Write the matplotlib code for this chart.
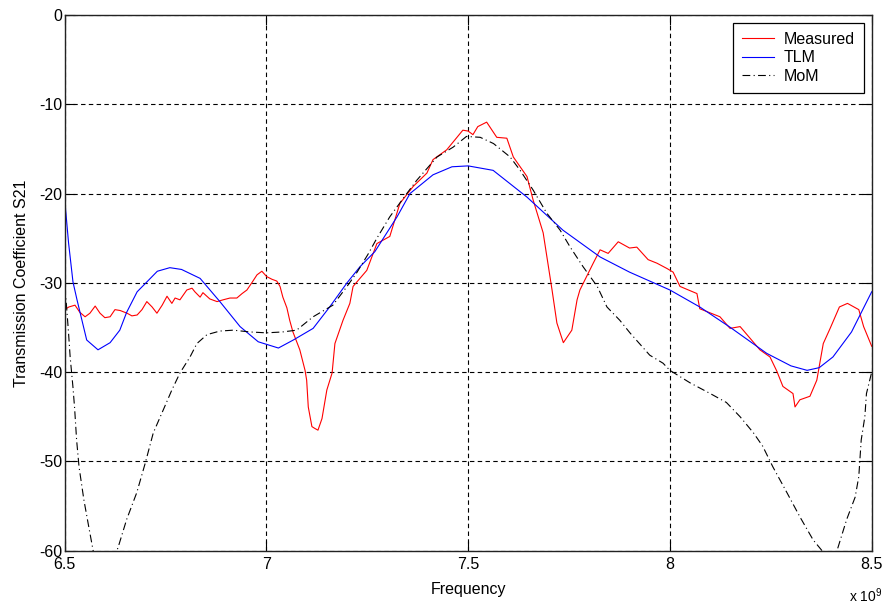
import matplotlib
matplotlib.use("Agg")
import matplotlib.pyplot as plt

plt.rcParams['font.family'] = ['Liberation Sans', 'DejaVu Sans']
plt.rcParams['axes.unicode_minus'] = False
plt.rcParams['mathtext.fontset'] = 'custom'
plt.rcParams['mathtext.rm'] = 'Liberation Sans'
plt.rcParams['mathtext.it'] = 'Liberation Sans'

# ---------------- data (frequency in GHz, S21 in dB) ----------------
meas_f = [6.500, 6.511, 6.526, 6.538, 6.551, 6.563, 6.576, 6.588, 6.600, 6.613,
          6.625, 6.638, 6.655, 6.667, 6.680, 6.692, 6.704, 6.717, 6.729, 6.742,
          6.754, 6.766, 6.774, 6.786, 6.803, 6.816, 6.823, 6.836, 6.843, 6.860,
          6.878, 6.893, 6.910, 6.927, 6.940, 6.952, 6.964, 6.977, 6.989, 7.001,
          7.014, 7.026, 7.034, 7.041, 7.051, 7.058, 7.066, 7.083, 7.096, 7.100,
          7.104, 7.113, 7.120, 7.128, 7.138, 7.150, 7.163, 7.170, 7.190, 7.207,
          7.215, 7.249, 7.274, 7.306, 7.331, 7.364, 7.398, 7.413, 7.447, 7.487,
          7.500, 7.512, 7.524, 7.546, 7.571, 7.596, 7.612, 7.646, 7.661, 7.686,
          7.708, 7.720, 7.736, 7.757, 7.770, 7.777, 7.810, 7.827, 7.847, 7.872,
          7.900, 7.918, 7.946, 7.968, 7.993, 8.008, 8.025, 8.067, 8.074, 8.124,
          8.149, 8.174, 8.223, 8.248, 8.265, 8.280, 8.305, 8.310, 8.322, 8.347,
          8.364, 8.380, 8.397, 8.420, 8.440, 8.468, 8.480, 8.500]
meas_db = [-33.0, -32.7, -32.5, -33.3, -33.8, -33.4, -32.6, -33.4, -33.9, -33.8,
           -33.0, -33.1, -33.4, -33.7, -33.6, -33.0, -32.1, -32.7, -33.4, -32.5,
           -31.5, -32.3, -31.7, -31.9, -30.8, -30.6, -31.0, -31.6, -31.1, -31.8,
           -32.1, -31.9, -31.7, -31.7, -31.2, -30.8, -30.0, -29.1, -28.7, -29.3,
           -29.6, -29.8, -30.4, -31.6, -32.8, -34.2, -35.5, -37.5, -39.8, -40.9,
           -43.9, -46.1, -46.3, -46.5, -45.2, -42.0, -40.1, -36.8, -34.2, -32.3,
           -30.4, -28.6, -25.6, -24.8, -21.1, -19.2, -17.7, -16.2, -15.1, -12.9,
           -13.0, -13.4, -12.5, -12.0, -13.7, -13.8, -15.9, -18.1, -20.7, -24.4,
           -30.8, -34.5, -36.7, -35.3, -31.9, -30.8, -27.8, -26.3, -26.7, -25.4,
           -26.1, -26.0, -27.4, -27.8, -28.4, -28.8, -30.4, -31.2, -32.9, -33.8,
           -35.1, -34.9, -37.5, -38.3, -39.9, -41.6, -42.4, -43.9, -43.1, -42.7,
           -40.9, -36.8, -35.1, -32.7, -32.3, -33.0, -34.9, -37.1]

tlm_f = [6.500, 6.510, 6.521, 6.531, 6.555, 6.583, 6.613, 6.637, 6.654, 6.680,
         6.704, 6.730, 6.761, 6.790, 6.836, 6.885, 6.935, 6.980, 7.030, 7.067,
         7.116, 7.157, 7.200, 7.232, 7.269, 7.324, 7.356, 7.413, 7.460, 7.500,
         7.562, 7.646, 7.735, 7.827, 7.900, 8.000, 8.074, 8.150, 8.240, 8.300,
         8.340, 8.370, 8.404, 8.450, 8.490, 8.500]
tlm_db = [-20.4, -25.5, -29.9, -31.9, -36.4, -37.5, -36.7, -35.3, -33.3, -31.0,
          -29.9, -28.7, -28.3, -28.5, -29.5, -32.1, -34.9, -36.6, -37.3, -36.4,
          -35.1, -32.7, -30.0, -28.2, -26.5, -22.6, -20.0, -17.9, -17.0, -16.9,
          -17.4, -20.4, -24.1, -27.1, -28.8, -30.8, -32.7, -35.0, -37.9, -39.3,
          -39.8, -39.5, -38.3, -35.5, -31.9, -31.0]

mom_f = [6.500, 6.504, 6.510, 6.514, 6.521, 6.525, 6.530, 6.536, 6.548, 6.560,
         6.571, 6.590, 6.610, 6.633, 6.654, 6.679, 6.700, 6.720, 6.745, 6.766,
         6.786, 6.811, 6.828, 6.853, 6.885, 6.918, 6.960, 7.000, 7.040, 7.075,
         7.116, 7.165, 7.200, 7.225, 7.252, 7.274, 7.306, 7.348, 7.373, 7.423,
         7.463, 7.496, 7.530, 7.563, 7.604, 7.629, 7.661, 7.695, 7.728, 7.753,
         7.785, 7.820, 7.844, 7.876, 7.901, 7.950, 7.983, 8.000, 8.050, 8.100,
         8.140, 8.174, 8.207, 8.230, 8.255, 8.290, 8.322, 8.355, 8.377, 8.395,
         8.414, 8.438, 8.459, 8.468, 8.474, 8.483, 8.487, 8.500]
mom_db = [-30.5, -32.0, -35.6, -38.3, -41.7, -44.0, -47.6, -50.6, -54.3, -57.3,
          -60.0, -62.5, -62.5, -59.6, -56.5, -53.5, -50.2, -46.8, -44.2, -42.0,
          -40.1, -38.3, -36.8, -35.8, -35.4, -35.3, -35.5, -35.6, -35.5, -35.3,
          -33.8, -32.5, -30.4, -28.8, -26.8, -25.0, -22.6, -20.0, -18.5, -15.9,
          -14.8, -13.6, -13.7, -14.4, -15.9, -17.4, -19.6, -22.2, -24.1, -26.0,
          -28.2, -30.4, -32.7, -34.2, -35.6, -38.1, -39.0, -39.8, -41.2, -42.4,
          -43.4, -45.0, -46.8, -48.3, -50.6, -53.5, -56.2, -58.8, -60.0, -60.8,
          -60.0, -56.5, -54.0, -51.7, -47.6, -45.0, -42.4, -40.0]

x_ticks = [6.5e9, 7.0e9, 7.5e9, 8.0e9, 8.5e9]
x_tick_labels = ['6.5', '7', '7.5', '8', '8.5']
y_ticks = [0, -10, -20, -30, -40, -50, -60]
series_labels = ['Measured', 'TLM', 'MoM']

# ---------------- figure ----------------
fig = plt.figure(figsize=(8.86, 6.04), dpi=100)
ax = fig.add_axes([64.5 / 886, 1 - 550.7 / 604, (871.7 - 64.5) / 886, (550.7 - 15) / 604])

hz = lambda arr: [v * 1e9 for v in arr]
ax.plot(hz(meas_f), meas_db, color='#ff0000', lw=0.8, label=series_labels[0])
ax.plot(hz(tlm_f), tlm_db, color='#0000ff', lw=0.8, label=series_labels[1])
ax.plot(hz(mom_f), mom_db, color='black', lw=0.8, linestyle=(0, (7, 3, 1, 3)),
        label=series_labels[2])

ax.set_xlim(6.5e9, 8.5e9)
ax.set_ylim(-60, 0)
ax.set_xticks(x_ticks)
ax.set_xticklabels(x_tick_labels)
ax.set_yticks(y_ticks)
ax.set_yticklabels([str(v) for v in y_ticks])

ax.grid(True, color='black', linestyle=(0, (4, 3)), linewidth=0.8)
ax.tick_params(direction='in', length=7, width=0.8, top=True, right=True,
               labelsize=11.5, colors='black')
ax.tick_params(axis='x', pad=4.5)
ax.tick_params(axis='y', pad=1.5)
for s in ax.spines.values():
    s.set_color('#222222')
    s.set_linewidth(1.0)

ax.set_xlabel('Frequency', fontsize=11.5, labelpad=7)
ax.set_ylabel('Transmission Coefficient S21', fontsize=11.5, labelpad=7)

leg = ax.legend(loc='upper right', fontsize=11.5, frameon=True, fancybox=False,
                edgecolor='black', framealpha=1, borderaxespad=0.5,
                handlelength=2.0, handletextpad=0.6, labelspacing=0.22,
                borderpad=0.55)
leg.get_frame().set_linewidth(0.9)

fig.text(882 / 886, 0.004, r'x 10$^{9}$', ha='right', va='baseline', fontsize=10)

fig.savefig('out.png', dpi=100, facecolor='white')
